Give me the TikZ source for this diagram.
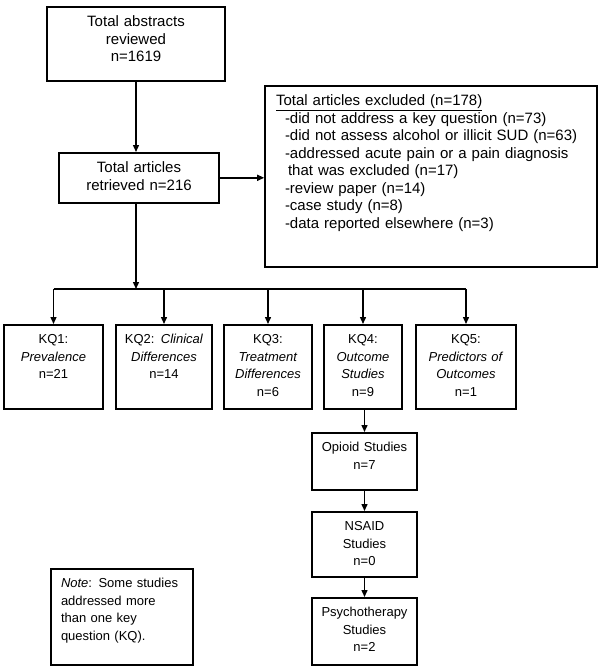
\documentclass[tikz,border=0pt]{standalone}
\usepackage{fontspec}
\setmainfont{Liberation Sans}
\usetikzlibrary{arrows.meta}

\begin{document}
\begin{tikzpicture}[x=1pt, y=-1pt, >={Triangle[length=7pt, width=6pt]}]
		\tikzset{bx/.style={draw, line width=1.6pt, anchor=north, inner sep=0pt, align=center, text height=20pt, font=\fontsize{15}{17.5}\selectfont}};
		\tikzset{sm/.style={bx, text height=19pt, font=\fontsize{13}{17.5}\selectfont}};
		\tikzset{ln/.style={line width=1.4pt}};
		\useasboundingbox (0,0) rectangle (603,670);

		\node[bx, text width=178pt, text depth=54pt] (abst) at (136, 6) {Total abstracts\\reviewed\\n=1619};
		\node[bx, text width=160pt, text depth=30pt] (retr) at (139, 152) {Total articles\\retrieved n=216};
		\node[bx, align=left, inner xsep=11pt, text width=310pt, text depth=161pt] (excl) at (431, 85) {\underline{Total articles excluded (n=178)}\\
			\hspace*{9pt}-did not address a key question (n=73)\\
			\hspace*{9pt}-did not assess alcohol or illicit SUD (n=63)\\
			\hspace*{9pt}-addressed acute pain or a pain diagnosis\\
			\hspace*{12pt}that was excluded (n=17)\\
			\hspace*{9pt}-review paper (n=14)\\
			\hspace*{9pt}-case study (n=8)\\
			\hspace*{9pt}-data reported elsewhere (n=3)};

		\node[sm, text width=99pt, text depth=65pt] (kq1) at (53.5, 324) {KQ1:\\\textit{Prevalence}\\n=21};
		\node[sm, text width=96pt, text depth=65pt] (kq2) at (164, 324) {KQ2: \textit{Clinical}\\\textit{Differences}\\n=14};
		\node[sm, text width=88pt, text depth=65pt] (kq3) at (268, 324) {KQ3:\\\textit{Treatment}\\\textit{Differences}\\n=6};
		\node[sm, text width=78pt, text depth=65pt] (kq4) at (363, 324) {KQ4:\\\textit{Outcome}\\\textit{Studies}\\n=9};
		\node[sm, text width=100pt, text depth=65pt] (kq5) at (466, 324) {KQ5:\\\textit{Predictors of}\\\textit{Outcomes}\\n=1};

		\node[sm, text width=105pt, text depth=38pt] (opio) at (364.5, 432) {Opioid Studies\\n=7};
		\node[sm, text width=105pt, text depth=46pt] (nsaid) at (364.5, 511) {NSAID\\Studies\\n=0};
		\node[sm, text width=105pt, text depth=48pt] (psych) at (364.5, 597) {Psychotherapy\\Studies\\n=2};

		\node[sm, align=left, inner xsep=10pt, text width=122pt, text depth=77pt] (note) at (122, 568) {\textit{Note}: Some studies\\addressed more\\than one key\\question (KQ).};

		\coordinate (bus) at (136, 289);

		\draw[ln, ->] (abst.south) -- (abst.south |- retr.north);
		\draw[ln, ->] (retr.east) -- (retr.east -| excl.west);
		\draw[ln, ->] (bus |- retr.south) -- (bus);
		\draw[ln] (bus -| kq1) -- (bus -| kq5);

		\draw[ln, ->] (bus -| kq1) -- (kq1.north);
		\draw[ln, ->] (bus -| kq2) -- (kq2.north);
		\draw[ln, ->] (bus -| kq3) -- (kq3.north);
		\draw[ln, ->] (bus -| kq4) -- (kq4.north);
		\draw[ln, ->] (bus -| kq5) -- (kq5.north);

		\draw[ln, ->] (opio.north |- kq4.south) -- (opio.north);
		\draw[ln, ->] (opio.south) -- (nsaid.north);
		\draw[ln, ->] (nsaid.south) -- (psych.north);

	\end{tikzpicture}
\end{document}
